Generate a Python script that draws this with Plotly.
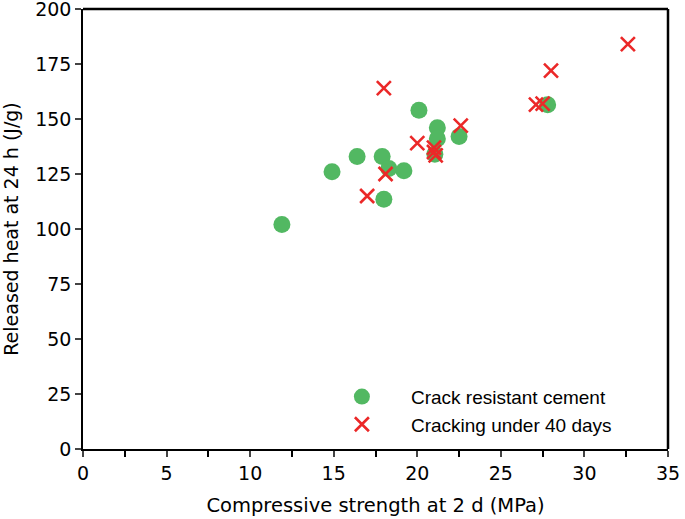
import plotly.graph_objects as go

# Crack resistant cement (green circles)
green_strength = [11.9, 14.9, 16.4, 17.9, 18.3, 19.2, 18.0, 20.1, 21.2, 21.2, 21.05, 22.5, 27.8]
green_heat = [102, 126, 133, 133, 127.5, 126.5, 113.5, 154, 146, 141, 134, 142, 156.5]

# Cracking under 40 days (red crosses)
red_strength = [17.0, 18.1, 18.0, 20.0, 21.0, 21.0, 21.1, 22.6, 27.1, 27.5, 28.0, 32.6]
red_heat = [115, 125, 164, 139, 137, 135, 133.5, 147, 156.5, 157, 172, 184]

x_ticks = [0, 5, 10, 15, 20, 25, 30, 35]
y_ticks = [0, 25, 50, 75, 100, 125, 150, 175, 200]

GREEN = "rgb(82,184,98)"
RED = "rgb(235,40,40)"
FONT = "DejaVu Sans"

fig = go.Figure()
fig.add_trace(go.Scatter(
    x=green_strength, y=green_heat, mode="markers",
    name="Crack resistant cement",
    marker=dict(symbol="circle", size=17, color=GREEN, line=dict(width=0)),
))
fig.add_trace(go.Scatter(
    x=red_strength, y=red_heat, mode="markers",
    name="Cracking under 40 days",
    marker=dict(symbol="x-thin", size=14, color=RED, line=dict(width=2.6, color=RED)),
))

fig.update_layout(
    width=685, height=519,
    margin=dict(l=83, r=17, t=9, b=70),
    paper_bgcolor="white", plot_bgcolor="white",
    font=dict(family=FONT, size=19, color="black"),
    showlegend=True,
    legend=dict(
        x=0.393, y=0.012, xanchor="left", yanchor="bottom",
        bgcolor="rgba(0,0,0,0)", font=dict(size=19, family="Liberation Sans"),
        itemwidth=88, tracegroupgap=0,
    ),
    xaxis=dict(
        range=[0, 35], tickvals=x_ticks, ticks="outside", ticklen=6,
        tickwidth=1.5, showline=True, linewidth=1.5, linecolor="black",
        showgrid=False, zeroline=False, automargin=False, ticklabeloverflow="allow",
        minor=dict(dtick=2.5, ticks="outside", ticklen=6, tickwidth=1.5, tickcolor="black"),
        title=dict(text="Compressive strength at 2 d (MPa)", font=dict(size=19.5), standoff=16),
        tickfont=dict(size=19),
    ),
    yaxis=dict(
        range=[0, 200], tickvals=y_ticks, ticks="outside", ticklen=6,
        tickwidth=1.5, showline=True, linewidth=1.5, linecolor="black",
        showgrid=False, zeroline=False, automargin=False, ticklabeloverflow="allow",
        title=dict(text="Released heat at 24 h (J/g)", font=dict(size=19), standoff=14),
        tickfont=dict(size=19),
    ),
)
# top and right frame lines
fig.add_shape(type="line", xref="paper", yref="paper", x0=0, x1=1, y0=1, y1=1,
              line=dict(color="black", width=2.5))
fig.add_shape(type="line", xref="paper", yref="paper", x0=1, x1=1, y0=0, y1=1,
              line=dict(color="black", width=2.5))

fig.write_html("out.html", config={"displayModeBar": False},
               post_script="document.body.style.margin='0';")
